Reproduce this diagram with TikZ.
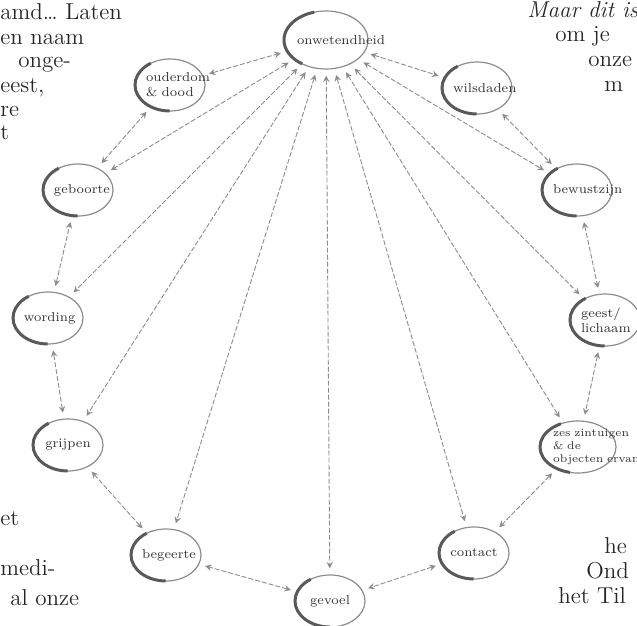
\documentclass[tikz,border=0pt]{standalone}
\usetikzlibrary{shapes,arrows,positioning}
\hyphenpenalty=10000
\tikzstyle{arrow} = [<->,>=stealth, draw=black!45, line width=0.45pt, dash pattern=on 2.5pt off 1pt, shorten <=3pt, shorten >=3pt]
\tikzstyle{link} = [ellipse, draw=black!45, line width=0.6pt, fill=white, inner sep=0pt,
text width=24pt, align=center, minimum width=35pt, minimum height=26pt, text=black!80,
font=\fontsize{6.5}{7.5}\selectfont,
postaction={draw=black!65, line width=1.5pt, dash pattern=on 38pt off 58pt, dash phase=62pt}]
\tikzstyle{page} = [anchor=base west, inner sep=0pt, text=black!85, font=\fontsize{11.5}{12.5}\selectfont]

\begin{document}
\begin{tikzpicture}[x=0.5pt, y=-0.5pt]
				% Page frame
				\useasboundingbox (0,0) rectangle (637,626);
				\clip (0,0) rectangle (637,626);

				% Place nodes
				\node (onw) [link, minimum width=42pt, minimum height=29pt, text width=29pt] at (326,40) {onwetendheid};
				\node (wil) [link] at (477,88) {wilsdaden};
				\node (bew) [link] at (577,190) {bewustzijn};
				\node (gee) [link, align=left] at (605,320) {geest/\\lichaam};
				\node (zes) [link, align=left, text width=25pt, minimum width=38pt, font=\fontsize{5.6}{6.3}\selectfont] at (578,447) {zes~zintuigen\\\&~de\\objecten~ervan};
				\node (con) [link] at (474,553) {contact};
				\node (gev) [link] at (330,601) {gevoel};
				\node (beg) [link] at (166,555) {begeerte};
				\node (gri) [link] at (68,445) {grijpen};
				\node (wor) [link] at (48,318) {wording};
				\node (geb) [link] at (78,190) {geboorte};
				\node (oud) [link, align=left] at (170,85) {ouderdom\\\&~dood};

				% Draw arrows
				\foreach \a/\b in {onw/wil, wil/bew, bew/gee, gee/zes, zes/con, con/gev, gev/beg, beg/gri, gri/wor, wor/geb, geb/oud, oud/onw}
					\draw [arrow] (\a) -- (\b);
				\foreach \b in {bew, gee, zes, con, gev, beg, gri, wor, geb}
					\draw [arrow] (onw) -- (\b);

				% Page text round the figure
				\foreach \x/\y/\t [count=\i] in {0/20/{amd\ldots\ Laten}, 0/45/{en naam}, 18/68/{onge-}, 0/93/{eest,}, 0/117/{re}, 0/140/{t},
					0/525/{et}, 0/575/{medi-}, 10/605/{al onze},
					527/18/{\textit{Maar dit is}}, 555/42/{om je}, 588/67/{onze}, 604/92/{m},
					604/553/{he}, 586/578/{Ond}, 558/603/{het Til}}
					\node (p\i) [page] at (\x,\y) {\t};

			\end{tikzpicture}
\end{document}
